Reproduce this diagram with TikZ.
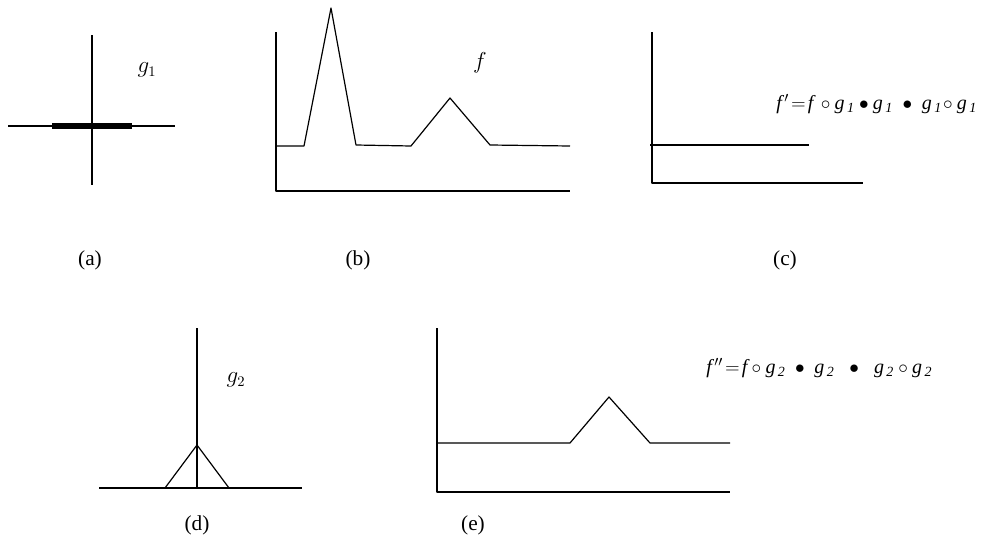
\documentclass[tikz,border=0pt]{standalone}
\usepackage{amsmath}
\usepackage{fontspec}
\setmainfont{Liberation Serif}
\tikzset{
    axisline/.style={line width=1.1pt},
    curveline/.style={line width=0.9pt},
    caption/.style={font=\fontsize{16}{18}\selectfont, inner sep=0pt},
    formula/.style={font=\fontsize{15}{18}\selectfont, inner sep=0pt, anchor=west},
}
\newcommand{\sub}[1]{_{\,\textit{#1}}}
\newcommand{\vf}{\mathit{f}}
\newcommand{\vg}{\mathit{g}}
\begin{document}
\begin{tikzpicture}[x=0.75pt,y=-0.75pt,line join=round]
    \useasboundingbox (0,0) rectangle (993,546);

    % (a) g1
    \draw[axisline] (92,35) -- (92,185);
    \draw[axisline] (8,126) -- (175,126);
    \draw[line width=4.5pt] (52,126) -- (132,126);
    \node[caption] (ga) at (147,70) {$g_1$};

    % (b) f
    \draw[axisline] (276,32) -- (276,191) -- (570,191);
    \draw[curveline] (276,146) -- (304,146) -- (331,8) -- (356,145) -- (411,146)
        -- (450,98) -- (490,145) -- (570,146);
    \node[caption] (fb) at (480,63) {$f$};

    % (c) f'
    \draw[axisline] (652,32) -- (652,183) -- (863,183);
    \draw[line width=1.5pt] (650,145) -- (809,145);
    \node[formula] (fc) at (776,104)
        {$\vf^{\,\prime}\!=\!\vf\,\circ\vg\sub{1}\bullet \vg\sub{1}\;\bullet\; \vg\sub{1}\!\circ\vg\sub{1}$};

    % (d) g2
    \draw[axisline] (197,328) -- (197,488);
    \draw[axisline] (99,488) -- (302,488);
    \draw[curveline] (165,488) -- (197,445) -- (229,488);
    \node[caption] (gd) at (236,380) {$g_2$};

    % (e) f''
    \draw[axisline] (437,328) -- (437,492) -- (730,492);
    \draw[curveline] (437,443) -- (570,443) -- (609,397) -- (650,443) -- (730,443);
    \node[formula] (fe) at (706,368)
        {$\vf^{\,\prime\prime}\!=\!\vf\circ\vg\sub{2}\;\bullet\; \vg\sub{2}\;\;\bullet\;\; \vg\sub{2}\circ \vg\sub{2}$};

    % captions
    \foreach \lab/\x/\y in {a/90/260,b/358/260,c/785/260,d/197/525,e/473/525} {
        \node[caption] (cap\lab) at (\x,\y) {(\lab)};
    }
\end{tikzpicture}
\end{document}
